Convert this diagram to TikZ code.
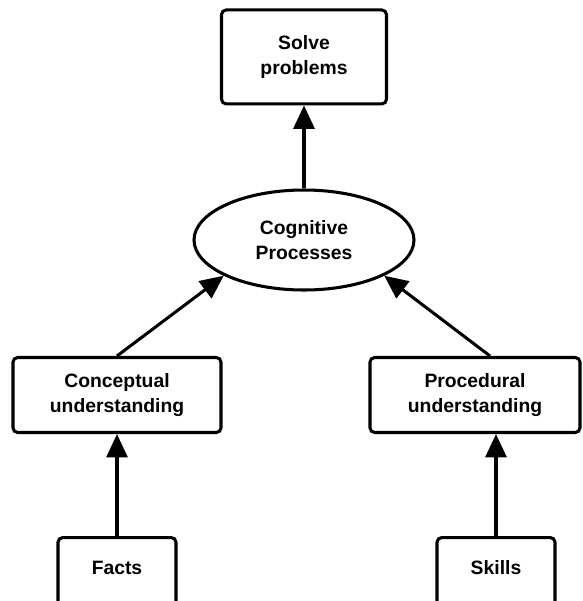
\documentclass[tikz,border=0pt]{standalone}
\usepackage{fontspec}
\setsansfont{Liberation Sans}
\usepackage{tikz}
\usetikzlibrary{shapes,arrows.meta,positioning}

\begin{document}
\begin{tikzpicture}[
  box/.style={draw, rectangle, rounded corners=4pt, line width=2.6pt, align=center, font=\sffamily\bfseries\fontsize{16.5}{21.5}\selectfont},
  oval/.style={draw, ellipse, line width=2.6pt, align=center, minimum width=6.6cm, minimum height=3cm, font=\sffamily\bfseries\fontsize{16.5}{21.5}\selectfont},
  line/.style={draw, line width=2.6pt, -{Triangle[width=18pt,length=20pt]}}
]
\useasboundingbox (0,0) rectangle (17.49,-18.03);

% Middle
\node[oval] (procs) at (9.12,-7.2) {Cognitive\\Processes};

% Top
\node[box, minimum width=4.95cm, minimum height=2.82cm, above=2.49cm of procs] (solve) {Solve\\problems};

% Understanding
\node[box, minimum width=6.24cm, minimum height=2.25cm] (concept) at (3.51,-11.85) {Conceptual\\understanding};
\node[box, minimum width=6.3cm, minimum height=2.25cm] (proced) at (14.25,-11.85) {Procedural\\understanding};

% Bottom (cut off by the page)
\node[box, minimum width=3.54cm, minimum height=3cm, text depth=1.2cm, below=3.06cm of concept] (facts) {Facts};
\node[box, minimum width=3.54cm, minimum height=3cm, text depth=1.2cm, below=3.06cm of proced, xshift=0.63cm] (skills) {Skills};

% Connectors
\draw[line] (procs.north) -- (solve.south);
\draw[line] (concept.north) -- (procs.204);
\draw[line] ([xshift=0.45cm]proced.north) -- (procs.336);
\draw[line] (facts.north -| concept.south) -- (concept.south);
\draw[line] (skills.north) -- (skills.north |- proced.south);

\end{tikzpicture}
\end{document}
